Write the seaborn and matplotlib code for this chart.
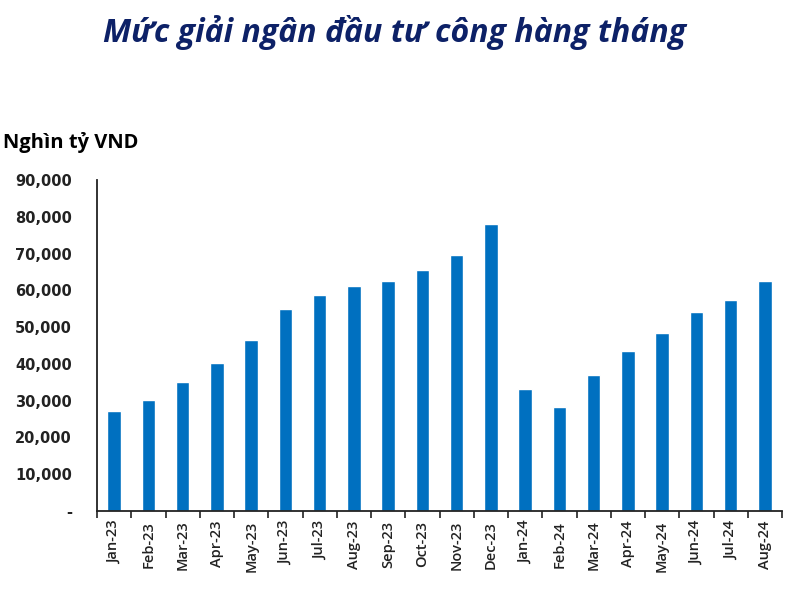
import numpy as np
import pandas as pd
import seaborn as sns
import matplotlib.pyplot as plt
from matplotlib.ticker import FuncFormatter

months = ['Jan-23', 'Feb-23', 'Mar-23', 'Apr-23', 'May-23', 'Jun-23', 'Jul-23',
          'Aug-23', 'Sep-23', 'Oct-23', 'Nov-23', 'Dec-23', 'Jan-24', 'Feb-24',
          'Mar-24', 'Apr-24', 'May-24', 'Jun-24', 'Jul-24', 'Aug-24']
disbursed = [27200, 30100, 35000, 40200, 46600, 54900, 58600, 61300, 62500, 65600,
             69500, 78000, 33100, 28200, 37100, 43600, 48500, 54100, 57400, 62500]
yticks = [0, 10000, 20000, 30000, 40000, 50000, 60000, 70000, 80000, 90000]

sns.set_style('white')
plt.rcParams['font.family'] = ['Open Sans', 'DejaVu Sans']

df = pd.DataFrame({'month': months, 'value': disbursed})

fig = plt.figure(figsize=(7.91, 5.99), dpi=100)
ax = fig.add_axes([97 / 791, 1 - 511 / 599, 685 / 791, 331 / 599])
sns.barplot(data=df, x='month', y='value', color='#0070C0', saturation=1,
            width=0.4, ax=ax)

ax.set_ylim(0, 90000)
ax.set_xlim(-0.5, len(months) - 0.5)
ax.set_yticks(yticks)
ax.yaxis.set_major_formatter(FuncFormatter(lambda v, p: '-' if v == 0 else f'{int(v):,}'))
for lab in ax.get_yticklabels():
    lab.set_fontfamily('DejaVu Sans')
    lab.set_fontweight('bold')
    lab.set_fontsize(10.5)
    lab.set_color('#222222')
ax.tick_params(axis='y', length=0, pad=18)

# tick marks between categories
ax.set_xticks(np.arange(len(months)))
ax.set_xticklabels(months, rotation=90, fontsize=10.5, fontweight='semibold',
                   color='#222222')
ax.set_xticks(np.arange(len(months) + 1) - 0.5, minor=True)
ax.tick_params(axis='x', which='major', length=0, pad=7)
ax.tick_params(axis='x', which='minor', length=5, width=1.2, color='#222222',
               direction='out', bottom=True)

ax.set_xlabel('')
ax.set_ylabel('')
for s in ['top', 'right']:
    ax.spines[s].set_visible(False)
for s in ['left', 'bottom']:
    ax.spines[s].set_color('#222222')
    ax.spines[s].set_linewidth(1.3)

fig.text(395 / 791, 1 - 32 / 599, 'Mức giải ngân đầu tư công hàng tháng',
         ha='center', va='center', fontsize=23, fontweight='bold',
         fontstyle='italic', color='#0D2167')
fig.text(3 / 791, 1 - 143 / 599, 'Nghìn tỷ VND', ha='left', va='center',
         fontsize=14.5, fontweight='bold', color='black')

fig.savefig('out.png', dpi=100)
